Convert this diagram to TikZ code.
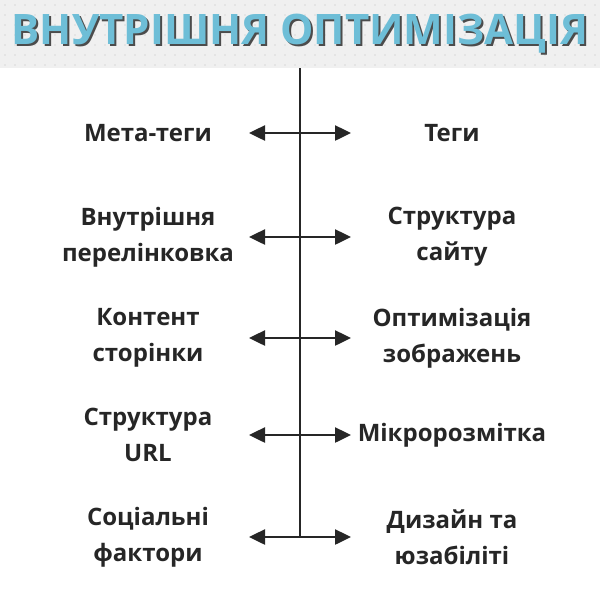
\documentclass[tikz,border=0pt]{standalone}
\usepackage{fontspec}
\setmainfont{Open Sans}
\usetikzlibrary{arrows.meta}
\begin{document}
\begin{tikzpicture}[x=1pt,y=-1pt,
 lbl/.style={align=center,font=\fontsize{24}{36}\selectfont\bfseries,text=black!85},
 arr/.style={{Triangle[length=16pt,width=15pt]}-{Triangle[length=16pt,width=15pt]},line width=2.5pt,black!85}]
\useasboundingbox (0,0) rectangle (600,590);
\fill[gray!12] (0,0) rectangle (600,68);
\foreach \i in {0,...,60}{\foreach \j in {0,...,6}{\fill[gray!30] (5+\i*10,5+\j*10) circle (0.8);}}
\node (t) at (300,34.5) {\fontsize{42}{45}\selectfont\bfseries\rlap{\kern2pt\raisebox{-2pt}{\color{black!70}ВНУТРІШНЯ ОПТИМІЗАЦІЯ}}\color[RGB]{110,190,215}ВНУТРІШНЯ ОПТИМІЗАЦІЯ};
\coordinate (top) at (300,68);
\coordinate (bot) at (300,538);
\draw[line width=2.5pt,black!85] (top) -- (bot);
\foreach \y/\n/\l/\r in {133/a/Мета-теги/Теги,
 237/b/Внутрішня\\перелінковка/Структура\\сайту,
 338/c/Контент\\сторінки/Оптимізація\\зображень,
 435/d/Структура\\URL/Мікророзмітка,
 537/e/Соціальні\\фактори/Дизайн та\\юзабіліті}{
 \node[lbl] (l\n) at (148,\y) {\l};
 \node[lbl] (r\n) at (452,\y) {\r};
 \coordinate (al\n) at (249,\y);
 \coordinate (ar\n) at (351,\y);
 \draw[arr] (al\n) -- (ar\n);
}
\end{tikzpicture}
\end{document}
